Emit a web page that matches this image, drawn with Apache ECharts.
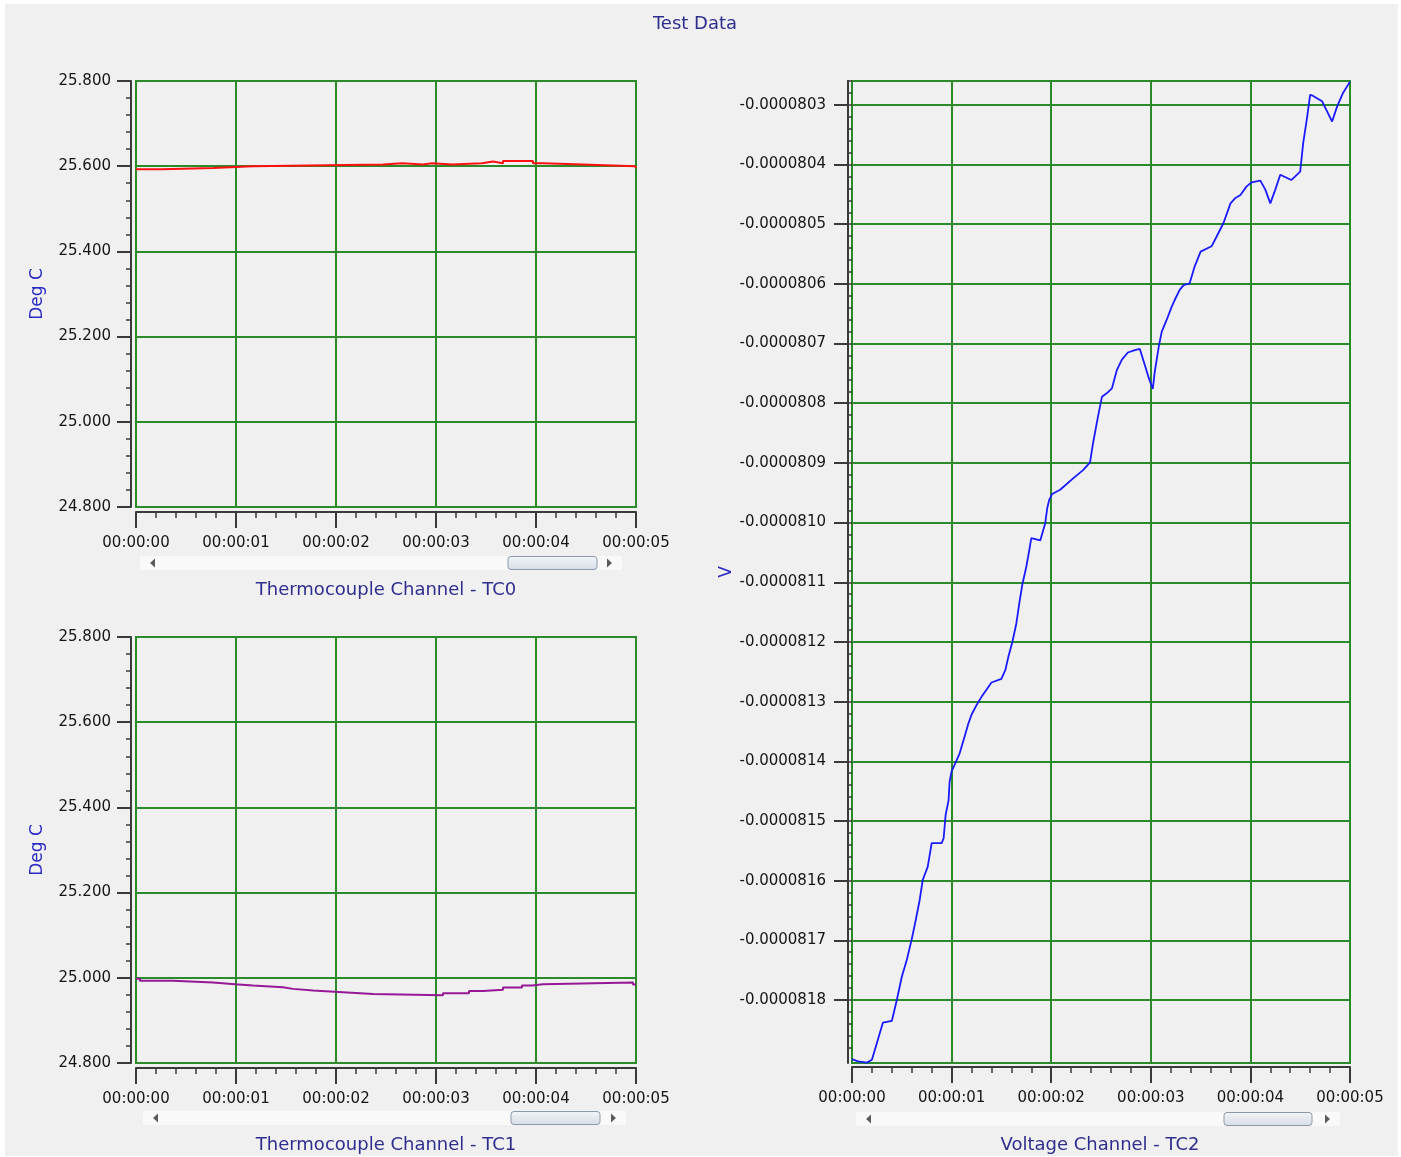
<!DOCTYPE html>
<html>
<head>
<meta charset="utf-8">
<title>Test Data</title>
<script src="https://cdn.jsdelivr.net/npm/echarts@6/dist/echarts.min.js"></script>
<style>
  html, body { margin: 0; padding: 0; background: #fff; }
  #panel { position: absolute; left: 5px; top: 4px; width: 1393px; height: 1152px; background: #f0f0f0; }
  #chart { position: absolute; left: 0; top: 0; width: 1401px; height: 1157px; }
</style>
</head>
<body>
<div id="panel"></div>
<div id="chart"></div>
<script>
// Thermocouple Channel - TC0 (seconds, deg C)
const tc0Times = [0, 0.26, 0.77, 1.17, 2.47, 2.66, 2.87, 2.96, 3.16, 3.46, 3.57, 3.67, 3.97, 4.07, 4.47, 4.99, 5.0];
const tc0Values = [25.593, 25.596, 25.600, 25.604, 25.607, 25.604, 25.607, 25.604, 25.607, 25.611, 25.607, 25.612, 25.607, 25.604, 25.600, 25.596, 25.596];

// Thermocouple Channel - TC1 (seconds, deg C)
const tc1Times = [0, 0.04, 0.37, 0.77, 0.99, 1.17, 1.47, 1.57, 1.77, 2.07, 2.37, 3.07, 3.33, 3.47, 3.67, 3.86, 3.96, 4.07, 4.97, 5.0];
const tc1Values = [24.998, 24.993, 24.989, 24.985, 24.982, 24.978, 24.974, 24.970, 24.966, 24.962, 24.959, 24.964, 24.969, 24.972, 24.977, 24.982, 24.985, 24.989, 24.984, 24.984];

// Voltage Channel - TC2 (seconds, volts)
const tc2Times = [
  0.00, 0.06, 0.15, 0.20, 0.25, 0.31, 0.40, 0.41, 0.45, 0.50,
  0.55, 0.60, 0.64, 0.68, 0.71, 0.76, 0.80, 0.90, 0.92, 0.94,
  0.97, 0.98, 1.00, 1.03, 1.08, 1.13, 1.17, 1.20, 1.25, 1.30,
  1.35, 1.40, 1.50, 1.54, 1.57, 1.61, 1.65, 1.68, 1.71, 1.75,
  1.78, 1.80, 1.89, 1.94, 1.96, 1.98, 2.01, 2.09, 2.22, 2.32,
  2.39, 2.42, 2.47, 2.51, 2.56, 2.61, 2.66, 2.71, 2.77, 2.84,
  2.89, 2.94, 2.98, 3.02, 3.04, 3.08, 3.11, 3.16, 3.21, 3.24,
  3.29, 3.33, 3.39, 3.44, 3.50, 3.61, 3.66, 3.73, 3.80, 3.85,
  3.90, 3.96, 4.01, 4.10, 4.15, 4.20, 4.25, 4.30, 4.41, 4.50,
  4.53, 4.57, 4.60, 4.63, 4.72, 4.77, 4.82, 4.87, 4.93, 5.00
];
const tc2Values = [
  -8.1899e-5, -8.1903e-5, -8.1905e-5, -8.1900e-5, -8.1872e-5, -8.1838e-5, -8.1835e-5, -8.1828e-5, -8.1800e-5, -8.1761e-5,
  -8.1733e-5, -8.1698e-5, -8.1666e-5, -8.1632e-5, -8.1599e-5, -8.1577e-5, -8.1537e-5, -8.1537e-5, -8.1529e-5, -8.1490e-5,
  -8.1465e-5, -8.1434e-5, -8.1417e-5, -8.1406e-5, -8.1387e-5, -8.1359e-5, -8.1336e-5, -8.1322e-5, -8.1306e-5, -8.1292e-5,
  -8.1280e-5, -8.1268e-5, -8.1262e-5, -8.1247e-5, -8.1225e-5, -8.1200e-5, -8.1169e-5, -8.1135e-5, -8.1104e-5, -8.1074e-5,
  -8.1046e-5, -8.1026e-5, -8.1030e-5, -8.1001e-5, -8.0976e-5, -8.0962e-5, -8.0952e-5, -8.0945e-5, -8.0926e-5, -8.0912e-5,
  -8.0899e-5, -8.0867e-5, -8.0822e-5, -8.0789e-5, -8.0783e-5, -8.0775e-5, -8.0744e-5, -8.0727e-5, -8.0715e-5, -8.0711e-5,
  -8.0709e-5, -8.0736e-5, -8.0758e-5, -8.0776e-5, -8.0747e-5, -8.0705e-5, -8.0680e-5, -8.0660e-5, -8.0638e-5, -8.0627e-5,
  -8.0610e-5, -8.0602e-5, -8.0599e-5, -8.0571e-5, -8.0546e-5, -8.0537e-5, -8.0521e-5, -8.0498e-5, -8.0465e-5, -8.0456e-5,
  -8.0451e-5, -8.0437e-5, -8.0430e-5, -8.0427e-5, -8.0442e-5, -8.0465e-5, -8.0442e-5, -8.0417e-5, -8.0426e-5, -8.0412e-5,
  -8.0364e-5, -8.0320e-5, -8.0283e-5, -8.0285e-5, -8.0294e-5, -8.0311e-5, -8.0328e-5, -8.0303e-5, -8.0280e-5, -8.0261e-5
];

// axis ticks
const timeTicks = ['00:00:00', '00:00:01', '00:00:02', '00:00:03', '00:00:04', '00:00:05'];
const tempTicks = [24.8, 25.0, 25.2, 25.4, 25.6, 25.8];
const voltTicks = [
  -0.0000803, -0.0000804, -0.0000805, -0.0000806, -0.0000807, -0.0000808, -0.0000809, -0.0000810,
  -0.0000811, -0.0000812, -0.0000813, -0.0000814, -0.0000815, -0.0000816, -0.0000817, -0.0000818
];

// voltage axis is drawn in units of 1e-7 V so the tick steps stay whole numbers
const VSCALE = 1e7;
const voltMin = -819.056;
const voltMax = -802.6;
const voltMajor = voltTicks.map(v => Math.round(v * VSCALE));
const voltMinor = [];
for (let k = -4094; k <= -4013; k++) voltMinor.push(k * 2 / 10);

const FONT = 'DejaVu Sans';
const GREEN = '#2b8b2b';
const DARK = '#3a3a3a';
const TITLE_BLUE = '#2e2e8e';
const NAME_BLUE = '#2a2ac4';

const chart = echarts.init(document.getElementById('chart'), null, { renderer: 'canvas' });

const labelStyle = { fontFamily: FONT, fontSize: 15, color: '#151515' };

function timeAxis(gridIndex, offset) {
  return {
    type: 'value', gridIndex, min: 0, max: 5, interval: 1, offset,
    axisLine: { show: true, onZero: false, lineStyle: { color: DARK, width: 2 } },
    axisTick: { show: true, length: 16, lineStyle: { color: DARK, width: 2 } },
    minorTick: { show: true, splitNumber: 5, length: 6, lineStyle: { color: DARK, width: 1.5 } },
    axisLabel: Object.assign({ margin: 24, formatter: v => timeTicks[Math.round(v)] }, labelStyle),
    splitLine: { show: true, lineStyle: { color: GREEN, width: 2 } },
    minorSplitLine: { show: false }
  };
}

function tempAxis(gridIndex) {
  return {
    type: 'value', gridIndex, position: 'left',
    min: tempTicks[0], max: tempTicks[tempTicks.length - 1], interval: 0.2, offset: 5,
    name: 'Deg C', nameLocation: 'middle', nameGap: 85,
    nameTextStyle: { fontFamily: FONT, fontSize: 17, color: NAME_BLUE },
    axisLine: { show: true, onZero: false, lineStyle: { color: DARK, width: 2 } },
    axisTick: { show: true, length: 14, lineStyle: { color: DARK, width: 2 } },
    minorTick: { show: true, splitNumber: 5, length: 5, lineStyle: { color: DARK, width: 1.5 } },
    axisLabel: Object.assign({ margin: 20, formatter: v => v.toFixed(3) }, labelStyle),
    splitLine: { show: true, lineStyle: { color: GREEN, width: 2 } }
  };
}

function scrollbar(x0, x1, y, t0, t1) {
  return [
    { type: 'rect', silent: true, shape: { x: x0, y: y - 7, width: x1 - x0, height: 14 }, style: { fill: '#f9f9f9' } },
    { type: 'polygon', silent: true, shape: { points: [[x0 + 10, y], [x0 + 15, y - 4.5], [x0 + 15, y + 4.5]] }, style: { fill: '#5a5a5a' } },
    { type: 'polygon', silent: true, shape: { points: [[x1 - 10, y], [x1 - 15, y - 4.5], [x1 - 15, y + 4.5]] }, style: { fill: '#5a5a5a' } },
    {
      type: 'rect', silent: true,
      shape: { x: t0, y: y - 6.5, width: t1 - t0, height: 13, r: 3 },
      style: {
        fill: { type: 'linear', x: 0, y: 0, x2: 0, y2: 1, colorStops: [{ offset: 0, color: '#f3f5f8' }, { offset: 1, color: '#d6dde6' }] },
        stroke: '#8c99a8', lineWidth: 1
      }
    }
  ];
}

function caption(text, x, y, size) {
  return {
    type: 'text', silent: true,
    style: { text, x, y, align: 'center', verticalAlign: 'middle', font: size + 'px "' + FONT + '"', fill: TITLE_BLUE }
  };
}

const gridBase = { show: true, borderColor: GREEN, borderWidth: 2, backgroundColor: 'transparent', containLabel: false, outerBoundsMode: 'none' };

const option = {
  animation: false,
  backgroundColor: 'transparent',
  grid: [
    Object.assign({ left: 136, top: 81, width: 500, height: 426 }, gridBase),
    Object.assign({ left: 136, top: 637, width: 500, height: 426 }, gridBase),
    Object.assign({ left: 852, top: 81, width: 498, height: 982 }, gridBase)
  ],
  xAxis: [timeAxis(0, 5), timeAxis(1, 5), timeAxis(2, 4)],
  yAxis: [
    tempAxis(0),
    tempAxis(1),
    {
      type: 'value', gridIndex: 2, position: 'left', min: voltMin, max: voltMax, offset: 4,
      name: 'V', nameLocation: 'middle', nameGap: 102,
      nameTextStyle: { fontFamily: FONT, fontSize: 17, color: NAME_BLUE },
      axisLine: { show: true, onZero: false, lineStyle: { color: DARK, width: 2 } },
      axisTick: { show: true, length: 14, customValues: voltMajor, lineStyle: { color: DARK, width: 2 } },
      axisLabel: Object.assign({ margin: 22, customValues: voltMajor, formatter: v => (v / VSCALE).toFixed(7) }, labelStyle),
      splitLine: { show: true, lineStyle: { color: GREEN, width: 2 } }
    },
    {
      type: 'value', gridIndex: 2, position: 'left', min: voltMin, max: voltMax, offset: 4,
      axisLine: { show: false },
      axisTick: { show: true, length: 5, customValues: voltMinor, lineStyle: { color: DARK, width: 1.5 } },
      axisLabel: { show: false },
      splitLine: { show: false }
    }
  ],
  series: [
    {
      name: 'TC0', type: 'line', xAxisIndex: 0, yAxisIndex: 0, step: 'end', showSymbol: false,
      lineStyle: { color: '#ff1010', width: 2 },
      data: tc0Times.map((t, i) => [t, tc0Values[i]])
    },
    {
      name: 'TC1', type: 'line', xAxisIndex: 1, yAxisIndex: 1, step: 'end', showSymbol: false,
      lineStyle: { color: '#961896', width: 2 },
      data: tc1Times.map((t, i) => [t, tc1Values[i]])
    },
    {
      name: 'TC2', type: 'line', xAxisIndex: 2, yAxisIndex: 2, showSymbol: false,
      lineStyle: { color: '#1a1aff', width: 1.8 },
      data: tc2Times.map((t, i) => [t, tc2Values[i] * VSCALE])
    }
  ],
  graphic: [
    caption('Test Data', 695, 24, 18),
    caption('Thermocouple Channel - TC0', 386, 590, 18),
    caption('Thermocouple Channel - TC1', 386, 1145, 18),
    caption('Voltage Channel - TC2', 1100, 1145, 18)
  ].concat(
    scrollbar(140, 622, 563, 508, 597),
    scrollbar(143, 626, 1118, 511, 600),
    scrollbar(856, 1340, 1119, 1224, 1312)
  )
};

chart.setOption(option);
window.addEventListener('resize', () => chart.resize());
</script>
</body>
</html>
